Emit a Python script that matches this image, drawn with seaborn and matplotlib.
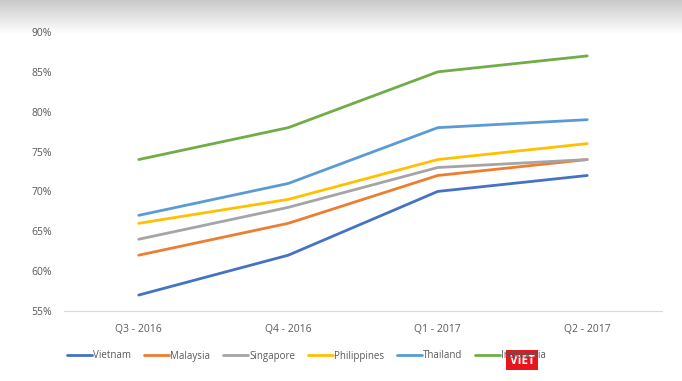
import matplotlib
matplotlib.use("Agg")
import matplotlib.pyplot as plt
import matplotlib.ticker as ticker
import numpy as np
import pandas as pd
import seaborn as sns

# ── Datos ────────────────────────────────────────────────────────────────────
quarters = ['Q3 - 2016', 'Q4 - 2016', 'Q1 - 2017', 'Q2 - 2017']
vietnam = [57, 62, 70, 72]
malaysia = [62, 66, 72, 74]
singapore = [64, 68, 73, 74]
philippines = [66, 69, 74, 76]
thailand = [67, 71, 78, 79]
indonesia = [74, 78, 85, 87]

series = {'Vietnam': vietnam, 'Malaysia': malaysia, 'Singapore': singapore,
          'Philippines': philippines, 'Thailand': thailand, 'Indonesia': indonesia}
colores = {'Vietnam': '#4472C4', 'Malaysia': '#ED7D31', 'Singapore': '#A5A5A5',
           'Philippines': '#FFC000', 'Thailand': '#5B9BD5', 'Indonesia': '#70AD47'}

df = pd.DataFrame([(q, pais, v) for pais, vals in series.items() for q, v in zip(quarters, vals)],
                  columns=['quarter', 'pais', 'valor'])

sns.set_style('white')
plt.rcParams['font.family'] = ['Open Sans', 'DejaVu Sans']

fig = plt.figure(figsize=(6.82, 3.81), dpi=100)

# franja gris degradada arriba
bg = fig.add_axes([0, 0, 1, 1], zorder=-1)
grad = np.linspace(0.79, 1.0, 100).reshape(-1, 1)
bg.imshow(np.dstack([grad, grad, grad]), extent=[0, 1, 1 - 34 / 381, 1], aspect='auto')
bg.set_xlim(0, 1)
bg.set_ylim(0, 1)
bg.axis('off')

ax = fig.add_axes([64 / 682, 1 - 311 / 381, (662 - 64) / 682, (311 - 32) / 381])
ax.patch.set_alpha(0)
sns.lineplot(data=df, x='quarter', y='valor', hue='pais', palette=colores,
             linewidth=2.0, ax=ax, legend=False, sort=False)

ax.set_xlim(-0.5, 3.5)
ax.set_ylim(55, 90)
ax.yaxis.set_major_locator(ticker.MultipleLocator(5))
ax.yaxis.set_major_formatter(ticker.FuncFormatter(lambda v, p: f'{v:.0f}%'))
ax.set_xlabel('')
ax.set_ylabel('')
for s in ['top', 'right', 'left']:
    ax.spines[s].set_visible(False)
ax.spines['bottom'].set_color('#D9D9D9')
ax.spines['bottom'].set_linewidth(0.8)
ax.tick_params(axis='both', length=0, labelsize=7.5, labelcolor='#595959')
ax.tick_params(axis='y', pad=8.5)
ax.tick_params(axis='x', pad=9)

handles = [plt.Line2D([], [], color=colores[p], linewidth=2.0) for p in series]
fig.legend(handles, list(series.keys()), loc='center left', bbox_to_anchor=(67 / 682, 1 - 356 / 381),
           ncol=6, frameon=False, fontsize=7, handlelength=2.6, handletextpad=0.1,
           columnspacing=1.3, labelcolor='#595959', borderpad=0, borderaxespad=0)

# marca de agua
fig.text(522 / 682, 1 - 360 / 381, 'VIET', color='white', fontsize=8.5, fontweight='bold',
         ha='center', va='center',
         bbox=dict(boxstyle='square,pad=0.3', facecolor='#E8141E', edgecolor='none'))

fig.savefig('out.png', dpi=100)
